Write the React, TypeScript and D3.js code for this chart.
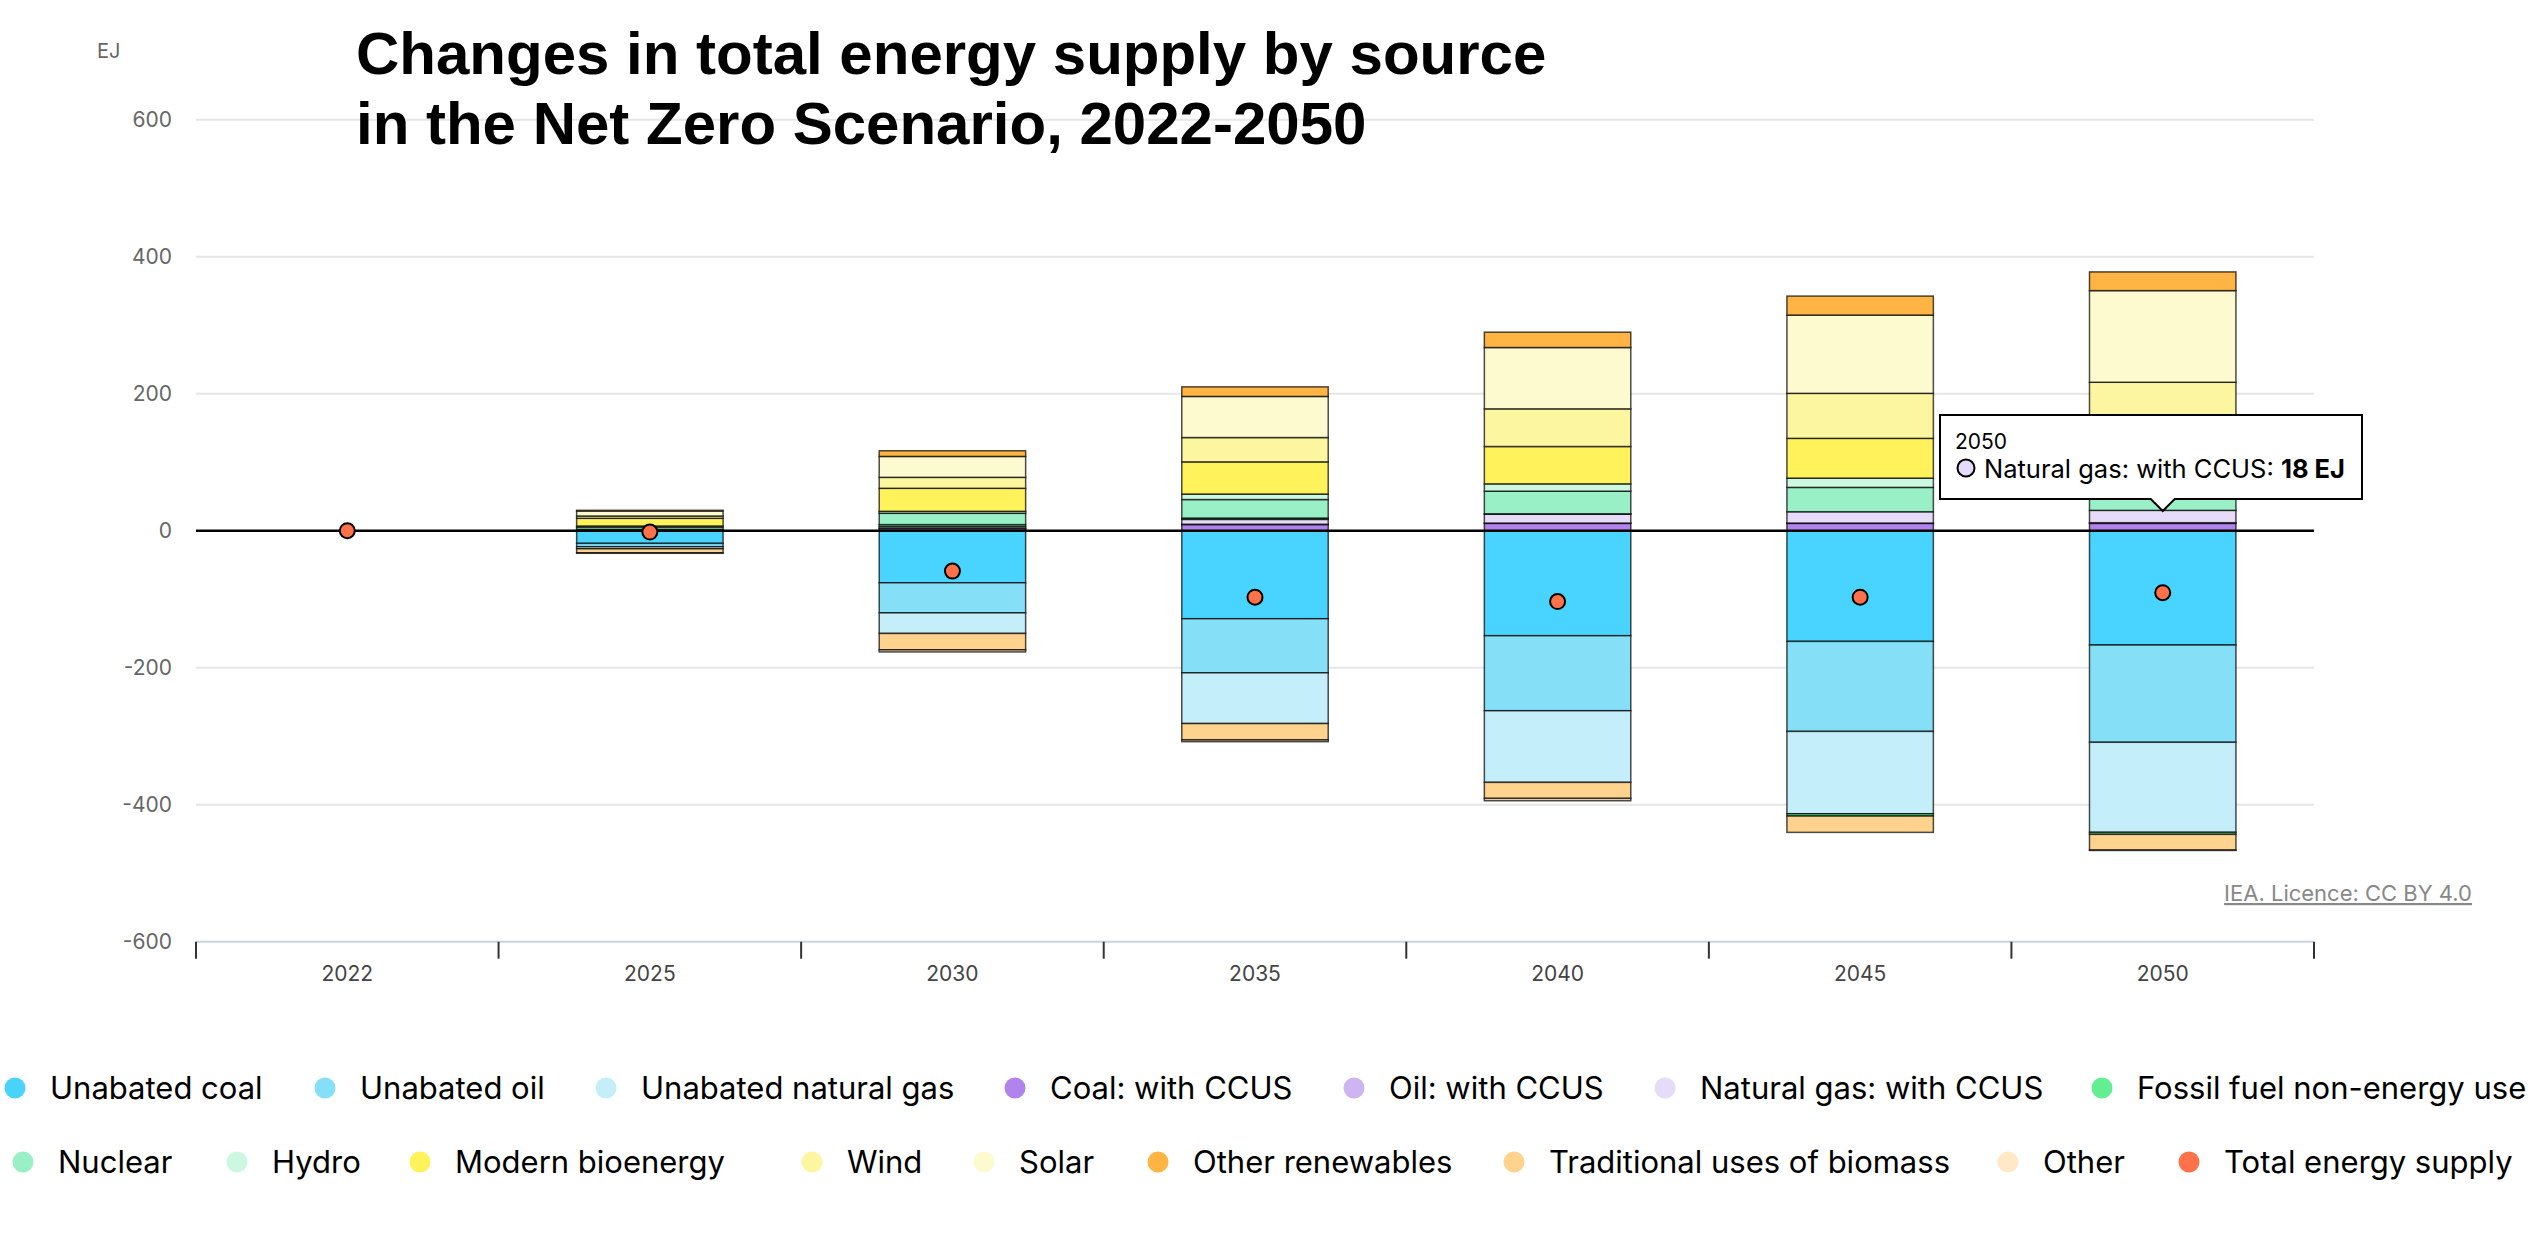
import React from "react";
import * as d3 from "d3";

// ---------- DATA (EJ, change vs 2022) ----------
const years = ["2022", "2025", "2030", "2035", "2040", "2045", "2050"];

const seriesNames = [
  "Unabated coal",
  "Unabated oil",
  "Unabated natural gas",
  "Coal: with CCUS",
  "Oil: with CCUS",
  "Natural gas: with CCUS",
  "Fossil fuel non-energy use",
  "Nuclear",
  "Hydro",
  "Modern bioenergy",
  "Wind",
  "Solar",
  "Other renewables",
  "Traditional uses of biomass",
  "Other",
];

const seriesColors = [
  "#48d4ff",
  "#85dff7",
  "#c5eefb",
  "#b084ec",
  "#cdb5f3",
  "#e6dbf8",
  "#64ee92",
  "#9af0c6",
  "#ccf8e2",
  "#fff25a",
  "#fdf6a0",
  "#fefad0",
  "#ffb444",
  "#ffd38e",
  "#fee8c6",
];

const unabatedCoal = [0, -18.5, -76, -128.5, -153.3, -161.6, -166.9];
const unabatedOil = [0, -4.9, -44, -79, -109.5, -131.4, -142];
const unabatedGas = [0, -3, -30, -74, -104.6, -120.2, -131.4];
const coalCCUS = [0, 0.3, 3, 9, 10.7, 10.7, 10.7];
const oilCCUS = [0, 0, 0.5, 0.5, 0.5, 0.5, 1];
const gasCCUS = [0, 0.2, 2.5, 7, 13, 16.5, 18];
const fossilNonEnergy = [0, 1.5, 2.9, 2, 0.5, -3.4, -3];
const nuclear = [0, 3.4, 16.5, 27, 33, 35.5, 38];
const hydro = [0, 1.5, 2.9, 8, 10.7, 13.6, 15];
const modernBio = [0, 11.2, 33.6, 47, 54.5, 58, 60];
const wind = [0, 3.4, 16, 35.5, 55, 65.7, 74];
const solar = [0, 7.3, 30.5, 60, 89.5, 114.3, 133.8];
const otherRenewables = [0, 1, 8.3, 14, 22.4, 27.7, 27.3];
const tradBiomass = [0, -5.8, -24, -24, -23.4, -23.8, -23];
const other = [0, -0.8, -3, -2.5, -3.4, 0, -0.5];
const totalSupply = [0, -2, -59, -97, -103.5, -97, -90.5];

const seriesValues = [
  unabatedCoal, unabatedOil, unabatedGas, coalCCUS, oilCCUS, gasCCUS,
  fossilNonEnergy, nuclear, hydro, modernBio, wind, solar, otherRenewables,
  tradBiomass, other,
];

const yTicks = [-600, -400, -200, 0, 200, 400, 600];

const legendRow1 = [0, 1, 2, 3, 4, 5, 6];
const legendRow2 = [7, 8, 9, 10, 11, 12, 13, 14, 15];

// ---------- LAYOUT ----------
const W = 2538;
const H = 1240;
const FONT = "Inter, 'Noto Sans', sans-serif";
const legendRow1X = [15, 325, 606, 1015, 1354, 1665, 2102];
const legendRow2X = [23, 237, 420, 812, 984, 1158, 1514, 2008, 2189];

export default function App() {
  const x = d3.scaleBand<string>().domain(years).range([196, 2314]).padding(0);
  const y = d3.scaleLinear().domain([-600, 600]).range([941.7, 119.7]);
  const barW = x.bandwidth() * 0.484;

  const rows = years.map((yr, i) => {
    const r: any = { year: yr };
    seriesNames.forEach((n, k) => (r[n] = seriesValues[k][i]));
    return r;
  });
  const stacked = d3
    .stack<any>()
    .keys(seriesNames)
    .offset(d3.stackOffsetDiverging)(rows);

  const x0 = x.range()[0];
  const x1 = x.range()[1];
  const boundaries = [...years.map((yr) => x(yr) as number), x1];

  const tipYear = "2050";
  const tipCx = (x(tipYear) as number) + x.bandwidth() / 2;

  return (
    <div style={{ position: "absolute", left: 0, top: 0 }}>
      <svg width={W} height={H} style={{ display: "block", background: "#fff" }}>
        {/* unit */}
        <text x={97} y={58} fontFamily={FONT} fontSize={20} fill="#666">EJ</text>

        {/* gridlines */}
        {yTicks.filter((t) => t !== 0 && t !== -600).map((t) => (
          <line key={t} x1={x0} x2={x1} y1={y(t)} y2={y(t)} stroke="#e6e6e6" strokeWidth={2} />
        ))}
        {/* y tick labels */}
        {yTicks.map((t) => (
          <text key={t} x={172} y={y(t) + 7} textAnchor="end" fontFamily={FONT} fontSize={21} fill="#666">
            {t}
          </text>
        ))}

        {/* title (drawn over the gridline) */}
        <text x={356} y={74} fontFamily="'Liberation Sans', Arial, sans-serif" fontWeight="bold" fontSize={60} fill="#000">
          Changes in total energy supply by source
        </text>
        <text x={356} y={144} fontFamily="'Liberation Sans', Arial, sans-serif" fontWeight="bold" fontSize={60} fill="#000">
          in the Net Zero Scenario, 2022-2050
        </text>

        {/* x axis */}
        <line x1={x0} x2={x1} y1={y(-600)} y2={y(-600)} stroke="#c8d4de" strokeWidth={2} />
        {boundaries.map((b, i) => (
          <line key={i} x1={b} x2={b} y1={y(-600)} y2={y(-600) + 17} stroke="#333" strokeWidth={2} />
        ))}
        {years.map((yr) => (
          <text key={yr} x={(x(yr) as number) + x.bandwidth() / 2} y={981} textAnchor="middle" fontFamily={FONT} fontSize={21} fill="#444">
            {yr}
          </text>
        ))}

        {/* bars */}
        {stacked.map((layer, k) => (
          <g key={layer.key}>
            {layer.map((d, i) => {
              const lo = Math.min(d[0], d[1]);
              const hi = Math.max(d[0], d[1]);
              if (hi - lo <= 0) return null;
              const bx = (x(years[i]) as number) + (x.bandwidth() - barW) / 2;
              return (
                <rect
                  key={i}
                  x={bx}
                  y={y(hi)}
                  width={barW}
                  height={y(lo) - y(hi)}
                  fill={seriesColors[k]}
                  stroke="rgba(0,0,0,0.7)"
                  strokeWidth={1.5}
                />
              );
            })}
          </g>
        ))}

        {/* zero line */}
        <line x1={x0} x2={x1} y1={y(0)} y2={y(0)} stroke="#000" strokeWidth={2.5} />

        {/* total dots */}
        {years.map((yr, i) => (
          <circle
            key={yr}
            cx={(x(yr) as number) + x.bandwidth() / 2}
            cy={y(totalSupply[i])}
            r={7.5}
            fill="#ff7148"
            stroke="#000"
            strokeWidth={2}
          />
        ))}

        {/* source */}
        <text x={2472} y={901} textAnchor="end" fontFamily={FONT} fontSize={22} fill="#888" textDecoration="underline">
          IEA. Licence: CC BY 4.0
        </text>

        {/* tooltip */}
        <g>
          <path
            d={`M1940,415 H2362 V499 H${tipCx + 12} L${tipCx},511 L${tipCx - 12},499 H1940 Z`}
            fill="#fff"
            stroke="#000"
            strokeWidth={2}
          />
          <text x={1955} y={449} fontFamily={FONT} fontSize={21} fill="#000">{tipYear}</text>
          <circle cx={1966} cy={468} r={8.5} fill={seriesColors[5]} stroke="#000" strokeWidth={2} />
          <text x={1984} y={478} fontFamily={FONT} fontSize={25.5} fill="#000">
            {seriesNames[5]}: <tspan fontWeight="bold">{gasCCUS[6]} EJ</tspan>
          </text>
        </g>

        {/* legend */}
        {legendRow1.map((k, j) => (
          <g key={k}>
            <circle cx={legendRow1X[j]} cy={1088} r={10.5} fill={seriesColors[k]} />
            <text x={legendRow1X[j] + 35} y={1099} fontFamily={FONT} fontSize={31} fill="#000">
              {seriesNames[k]}
            </text>
          </g>
        ))}
        {legendRow2.map((k, j) => (
          <g key={k}>
            <circle cx={legendRow2X[j]} cy={1162} r={10.5} fill={k < seriesNames.length ? seriesColors[k] : "#ff7148"} />
            <text x={legendRow2X[j] + 35} y={1173} fontFamily={FONT} fontSize={31} fill="#000">
              {k < seriesNames.length ? seriesNames[k] : "Total energy supply"}
            </text>
          </g>
        ))}
      </svg>
    </div>
  );
}
